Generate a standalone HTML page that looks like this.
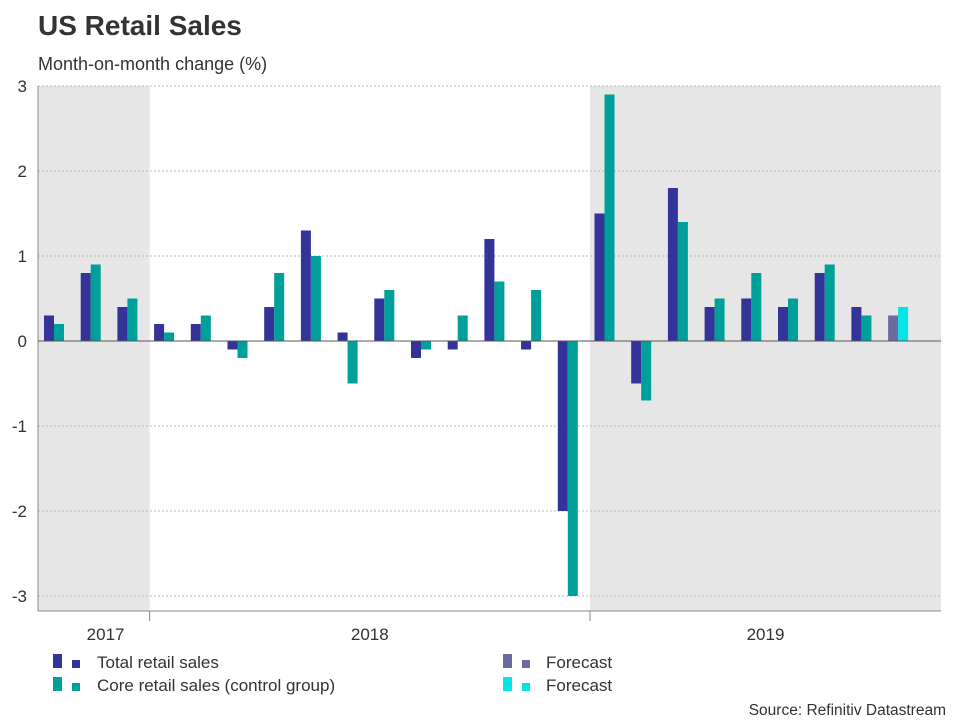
<!DOCTYPE html>
<html><head><meta charset="utf-8"><style>
body{margin:0;background:#fff;font-family:"Liberation Sans",Arial,sans-serif;}
svg{display:block}
</style></head><body>
<svg width="960" height="720" font-family="Liberation Sans, Arial, sans-serif">
<text x="38" y="35" font-size="28" font-weight="bold" fill="#333">US Retail Sales</text>
<text x="38" y="70" font-size="18" fill="#333">Month-on-month change (%)</text>
<g id="plot"></g>
<g>
<g><rect x="53" y="654" width="9" height="14" fill="#333399"/><rect x="72" y="660" width="8" height="8" fill="#333399"/><text x="97" y="668" font-size="17" fill="#333">Total retail sales</text></g>
<g><rect x="53" y="677" width="9" height="14" fill="#00a09a"/><rect x="72" y="683" width="8" height="8" fill="#00a09a"/><text x="97" y="691" font-size="17" fill="#333">Core retail sales (control group)</text></g>
<g><rect x="503" y="654" width="9" height="14" fill="#6b6b9f"/><rect x="522" y="660" width="8" height="8" fill="#6b6b9f"/><text x="546" y="668" font-size="17" fill="#333">Forecast</text></g>
<g><rect x="503" y="677" width="9" height="14" fill="#00e5e5"/><rect x="522" y="683" width="8" height="8" fill="#00e5e5"/><text x="546" y="691" font-size="17" fill="#333">Forecast</text></g>
</g>
<text x="946" y="715" font-size="15.5" fill="#333" text-anchor="end">Source: Refinitiv Datastream</text>
</svg>
<script>
const totalSales=[0.3,0.8,0.4,0.2,0.2,-0.1,0.4,1.3,0.1,0.5,-0.2,-0.1,1.2,-0.1,-2.0,1.5,-0.5,1.8,0.4,0.5,0.4,0.8,0.4,0.3];
const coreSales=[0.2,0.9,0.5,0.1,0.3,-0.2,0.8,1.0,-0.5,0.6,-0.1,0.3,0.7,0.6,-3.0,2.9,-0.7,1.4,0.5,0.8,0.5,0.9,0.3,0.4];
const yTicks=[3,2,1,0,-1,-2,-3];
const years=["2017","2018","2019"];
const yearStart=[0,3,15];
const yearEnd=[3,15,24];
const forecastIndex=23;

const NS="http://www.w3.org/2000/svg";
const g=document.getElementById('plot');
const L=38,R=941,B=611;
function y(v){return 341-v*85;}
function xs(i){return 44+i*36.7;}
function xb(i){return xs(i)-4.5;}
function mk(t,a){const e=document.createElementNS(NS,t);for(const k in a)e.setAttribute(k,a[k]);g.appendChild(e);return e;}
years.forEach((yr,k)=>{
  const x0=k==0?L:xb(yearStart[k]), x1=k==years.length-1?R:xb(yearEnd[k]);
  if(k%2==0){const r=mk('rect',{x:x0,y:86,width:x1-x0,height:B-86,fill:'#e6e6e6'});
  
  }
  const cx=k==0?x1-44:(x0+x1)/2;
  const t=mk('text',{x:cx,y:640,'font-size':17,fill:'#333','text-anchor':'middle'});t.textContent=yr;
  
  
  if(k>0){const tk=mk('line',{x1:x0,x2:x0,y1:B,y2:B+10,stroke:'#888'});
  
  }
});
yTicks.forEach(v=>{
  if(v!==0){const l=mk('line',{x1:L,x2:R,y1:y(v),y2:y(v),stroke:'#bbb','stroke-dasharray':'2,2'});
  
  }
  const t=mk('text',{x:27,y:y(v)+6,'font-size':17,fill:'#333','text-anchor':'end'});t.textContent=v;
  
  
});
const la=mk('line',{x1:L,x2:L,y1:86,y2:B,stroke:'#888'});


const bx=mk('line',{x1:L,x2:R,y1:B,y2:B,stroke:'#888'});


totalSales.forEach((v,i)=>{
  const f=i===forecastIndex;
  const r=mk('rect',{x:xs(i),y:Math.min(y(v),y(0)),width:10,height:Math.abs(y(v)-y(0)),fill:f?'#6b6b9f':'#333399'});
  
  
});
coreSales.forEach((v,i)=>{
  const f=i===forecastIndex;
  const r=mk('rect',{x:xs(i)+10,y:Math.min(y(v),y(0)),width:10,height:Math.abs(y(v)-y(0)),fill:f?'#00e5e5':'#00a09a'});
  
  
});
const z=mk('line',{x1:L,x2:R,y1:y(0),y2:y(0),stroke:'#555'});


</script>
</body></html>
